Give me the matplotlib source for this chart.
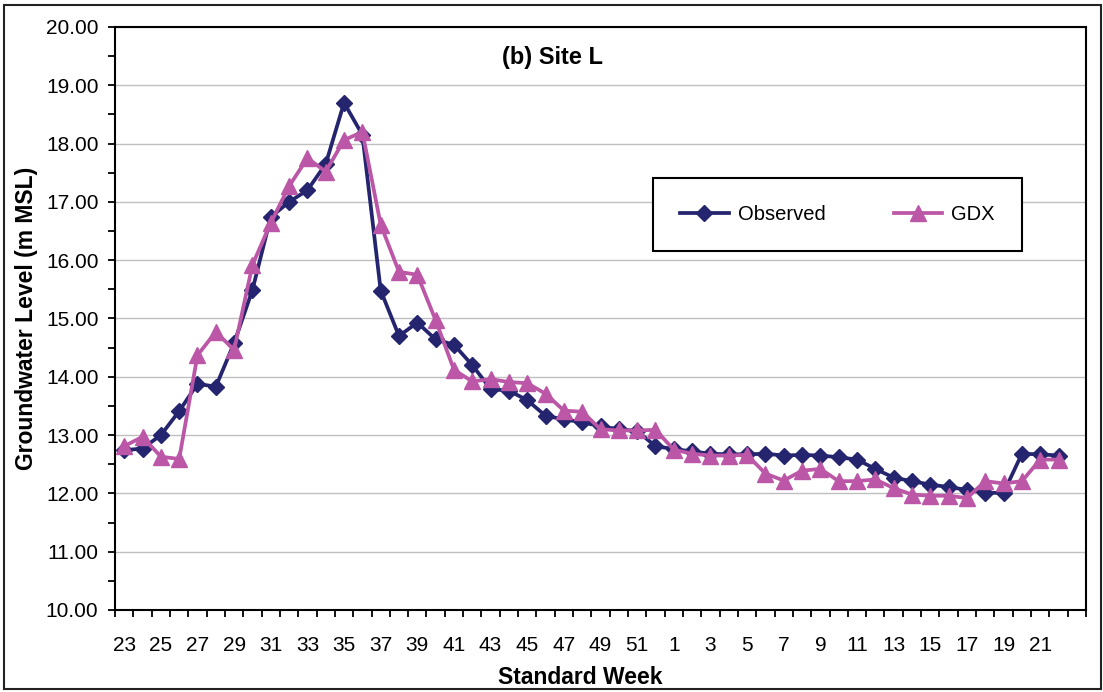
import matplotlib
matplotlib.use("Agg")
import matplotlib.pyplot as plt
from matplotlib.patches import Rectangle
from matplotlib.ticker import FixedLocator, FormatStrFormatter, MultipleLocator

plt.rcParams['font.family'] = ['Liberation Sans', 'DejaVu Sans']

# Standard weeks (June of one year through May of the next)
weeks = list(range(23, 53)) + list(range(1, 23))

observed = [12.74, 12.77, 13.00, 13.41, 13.88, 13.83, 14.58, 15.49, 16.74, 17.00,
            17.20, 17.65, 18.70, 18.15, 15.48, 14.70, 14.93, 14.64, 14.55, 14.20,
            13.79, 13.76, 13.60, 13.33, 13.27, 13.22, 13.15, 13.10, 13.07, 12.81,
            12.76, 12.72, 12.68, 12.67, 12.67, 12.68, 12.65, 12.66, 12.65, 12.62,
            12.58, 12.42, 12.27, 12.21, 12.15, 12.11, 12.06, 12.01, 12.01, 12.68,
            12.67, 12.65]

gdx = [12.81, 12.97, 12.63, 12.59, 14.37, 14.77, 14.46, 15.92, 16.64, 17.27,
       17.75, 17.52, 18.06, 18.20, 16.61, 15.80, 15.75, 14.97, 14.12, 13.92,
       13.96, 13.91, 13.89, 13.71, 13.42, 13.40, 13.10, 13.08, 13.08, 13.09,
       12.75, 12.68, 12.65, 12.65, 12.66, 12.34, 12.22, 12.39, 12.42, 12.21,
       12.21, 12.24, 12.09, 11.98, 11.96, 11.96, 11.92, 12.21, 12.17, 12.21,
       12.58, 12.58]

col_obs = "#25256F"
col_gdx = "#BC56A6"

fig = plt.figure(figsize=(11.03, 6.92), dpi=100)
ax = fig.add_axes([0.1043, 0.1185, 0.8803, 0.8425])

x = list(range(len(weeks)))
ax.plot(x, observed, color=col_obs, lw=2.7, marker="D", ms=8.5, label="Observed", zorder=3)
ax.plot(x, gdx, color=col_gdx, lw=2.7, marker="^", ms=11, label="GDX", zorder=4)

# axes limits / ticks
ax.set_xlim(-0.5, len(weeks) + 0.5)
ax.set_ylim(10, 20)
ax.xaxis.set_major_locator(FixedLocator(x[::2]))
ax.set_xticklabels([str(w) for w in weeks[::2]])
ax.xaxis.set_minor_locator(FixedLocator([i - 0.5 for i in range(len(weeks) + 2)]))
ax.tick_params(axis="x", which="major", length=0, pad=19, labelsize=15)
ax.tick_params(axis="x", which="minor", length=5, width=1.3, direction="out")
ax.yaxis.set_major_locator(MultipleLocator(1))
ax.yaxis.set_minor_locator(MultipleLocator(0.5))
ax.yaxis.set_major_formatter(FormatStrFormatter("%.2f"))
ax.tick_params(axis="y", which="both", length=5, width=1.3, direction="out", pad=7, labelsize=15)

ax.grid(axis="y", which="major", color="#BFBFBF", lw=1)
ax.set_axisbelow(True)
for s in ax.spines.values():
    s.set_linewidth(1.5)
    s.set_color("black")

ax.set_xlabel("Standard Week", fontsize=16.5, fontweight="bold")
ax.xaxis.set_label_coords(0.479, -0.096)
ax.set_ylabel("Groundwater Level (m MSL)", fontsize=16.5, fontweight="bold")
ax.yaxis.set_label_coords(-0.079, 0.5)

ax.text(0.451, 0.947, "(b) Site L", transform=ax.transAxes, ha="center", va="center",
        fontsize=17, fontweight="bold")

leg = ax.legend(loc="center", bbox_to_anchor=(0.744, 0.678), ncol=2, fontsize=14.5,
                handlelength=2.4, handletextpad=0.45, columnspacing=3.4, borderpad=1.35,
                fancybox=False, framealpha=1, edgecolor="black")
leg.get_frame().set_linewidth(1.5)

# outer chart border
fig.patches.append(Rectangle((0.004, 0.004), 0.994, 0.989, transform=fig.transFigure,
                             fill=False, edgecolor="#222222", lw=1.5))

fig.savefig("out.png", dpi=100)
